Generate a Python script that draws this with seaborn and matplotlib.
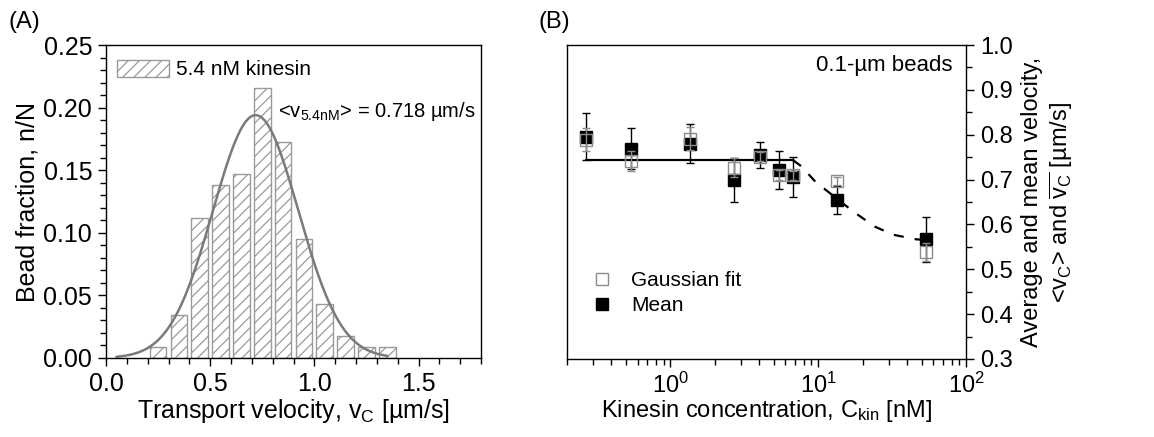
import numpy as np
import pandas as pd
import matplotlib
matplotlib.use("Agg")
import matplotlib.pyplot as plt
import seaborn as sns
from matplotlib.ticker import MultipleLocator, LogLocator, NullFormatter, FormatStrFormatter
from matplotlib.lines import Line2D
from matplotlib.patches import Patch

# ---- Panel A: velocity histogram at 5.4 nM kinesin ----
bin_centers = [0.25, 0.35, 0.45, 0.55, 0.65, 0.75, 0.85, 0.95, 1.05, 1.15, 1.25, 1.35]
bead_fraction = [0.0086, 0.0345, 0.1121, 0.1379, 0.1466, 0.2155,
                 0.1724, 0.0948, 0.0431, 0.0172, 0.0086, 0.0086]
bin_width = 0.1

# Gaussian fit parameters
fit_mean = 0.718
fit_sigma = 0.205
fit_peak = 0.194
fit_range = (0.05, 1.35)

# ---- Panel B: velocity vs kinesin concentration ----
conc_nM = [0.27, 0.54, 1.35, 2.7, 4.05, 5.4, 6.75, 13.5, 54.0]
v_mean = [0.796, 0.769, 0.780, 0.699, 0.754, 0.721, 0.706, 0.655, 0.567]
v_mean_err = [0.052, 0.045, 0.044, 0.048, 0.029, 0.042, 0.044, 0.031, 0.050]
v_gauss = [0.789, 0.742, 0.791, 0.726, 0.751, 0.710, 0.710, 0.697, 0.538]
v_gauss_err = [0.026, 0.022, 0.026, 0.021, 0.010, 0.012, 0.010, 0.009, 0.020]

# model curve: plateau then decay
plateau_conc = [0.27, 6.75]
plateau_v = [0.7435, 0.7435]
decay_conc = [6.75, 7.67, 9.59, 17.4, 24.2, 32.2, 45.6, 54.0]
decay_v = [0.7435, 0.730, 0.695, 0.628, 0.595, 0.577, 0.567, 0.565]

sns.set_theme(style="ticks")
plt.rcParams["font.family"] = ["Liberation Sans", "DejaVu Sans"]
plt.rcParams["mathtext.fontset"] = "custom"
plt.rcParams["mathtext.rm"] = "Liberation Sans"
plt.rcParams["mathtext.it"] = "Liberation Sans"
plt.rcParams["mathtext.bf"] = "Liberation Sans:bold"
plt.rcParams["mathtext.default"] = "regular"
plt.rcParams["hatch.color"] = "#9a9a9a"
plt.rcParams["hatch.linewidth"] = 0.9
plt.rcParams["axes.edgecolor"] = "black"
plt.rcParams["axes.linewidth"] = 1.0
plt.rcParams["xtick.color"] = "black"
plt.rcParams["ytick.color"] = "black"
plt.rcParams["text.color"] = "black"
plt.rcParams["axes.labelcolor"] = "black"

A_FS = 18
B_FS = 17
SMALL_FS = 15

fig = plt.figure(figsize=(11.54, 4.37), dpi=100)
ax_a = fig.add_axes([0.0919, 0.1808, 0.3250, 0.7162])
ax_b = fig.add_axes([0.4913, 0.1785, 0.3458, 0.7185])

# ---------------- Panel A ----------------
hist_df = pd.DataFrame({"velocity": bin_centers, "fraction": bead_fraction})
lo = bin_centers[0] - bin_width / 2
hi = bin_centers[-1] + bin_width / 2
sns.histplot(data=hist_df, x="velocity", weights="fraction",
             binwidth=bin_width, binrange=(lo, hi),
             shrink=0.8, ax=ax_a, facecolor="white", edgecolor="#9a9a9a",
             hatch="///", linewidth=1.0, alpha=1)

xfit = np.linspace(fit_range[0], fit_range[1], 300)
yfit = fit_peak * np.exp(-0.5 * ((xfit - fit_mean) / fit_sigma) ** 2)
sns.lineplot(x=xfit, y=yfit, ax=ax_a, color="#7a7a7a", linewidth=1.8)

ax_a.set_xlim(0, 1.8)
ax_a.set_ylim(0, 0.25)
ax_a.xaxis.set_major_locator(MultipleLocator(0.5))
ax_a.xaxis.set_minor_locator(MultipleLocator(0.1))
ax_a.yaxis.set_major_locator(MultipleLocator(0.05))
ax_a.yaxis.set_minor_locator(MultipleLocator(0.01))
ax_a.xaxis.set_major_formatter(FormatStrFormatter("%.1f"))
ax_a.yaxis.set_major_formatter(FormatStrFormatter("%.2f"))
ax_a.tick_params(which="major", direction="out", length=6, width=1, labelsize=A_FS, pad=4)
ax_a.tick_params(which="minor", direction="out", length=4, width=1)
ax_a.set_xlabel("Transport velocity, v$_C$ [µm/s]", fontsize=A_FS, labelpad=1)
ax_a.set_ylabel("Bead fraction, n/N", fontsize=A_FS, labelpad=3)
for s in ax_a.spines.values():
    s.set_visible(True)

ax_a.legend(
    handles=[Patch(facecolor="white", edgecolor="#9a9a9a", hatch="///", linewidth=1.0)],
    labels=["5.4 nM kinesin"], loc="upper left", frameon=False,
    fontsize=SMALL_FS, handlelength=2.5, handleheight=0.9,
    handletextpad=0.35, borderaxespad=0.3, bbox_to_anchor=(-0.01, 1.0))

ax_a.text(0.825, 0.197, "<v$_{5.4nM}$> = 0.718 µm/s", fontsize=14.5,
          ha="left", va="center")

# ---------------- Panel B ----------------
sns.lineplot(x=plateau_conc, y=plateau_v, ax=ax_b, color="black", linewidth=1.6)
sns.lineplot(x=decay_conc, y=decay_v, ax=ax_b, color="black", linewidth=1.6,
             linestyle=(0, (4.5, 5)))

ax_b.errorbar(conc_nM, v_mean, yerr=v_mean_err, fmt="s", ms=9,
              mfc="black", mec="black", ecolor="black", elinewidth=1.0,
              capsize=3.2, capthick=1.0, zorder=3)
ax_b.errorbar(conc_nM, v_gauss, yerr=v_gauss_err, fmt="s", ms=9,
              mfc="none", mec="#8c8c8c", mew=1.0, ecolor="#8c8c8c",
              elinewidth=1.0, capsize=3.2, capthick=1.0, zorder=4)

ax_b.set_xscale("log")
ax_b.set_xlim(0.2, 100)
ax_b.set_ylim(0.3, 1.0)
ax_b.xaxis.set_major_locator(LogLocator(base=10, numticks=10))
ax_b.xaxis.set_minor_locator(LogLocator(base=10, subs=np.arange(2, 10), numticks=20))
ax_b.xaxis.set_minor_formatter(NullFormatter())
ax_b.yaxis.set_major_locator(MultipleLocator(0.1))
ax_b.yaxis.set_minor_locator(MultipleLocator(0.05))
ax_b.yaxis.set_major_formatter(FormatStrFormatter("%.1f"))
ax_b.yaxis.tick_right()
ax_b.yaxis.set_label_position("right")
ax_b.tick_params(which="major", direction="out", length=6, width=1, labelsize=B_FS, pad=4)
ax_b.tick_params(which="minor", direction="out", length=4, width=1)
ax_b.tick_params(axis="y", which="both", left=False, right=True)
for s in ax_b.spines.values():
    s.set_visible(True)
ax_b.set_xlabel("Kinesin concentration, C$_{kin}$ [nM]", fontsize=B_FS, labelpad=0)
ax_b.set_ylabel("Average and mean velocity,\n<v$_C$> and $\\overline{v_C}$ [µm/s]",
                fontsize=B_FS, labelpad=6)

ax_b.text(0.967, 0.936, "0.1-µm beads", transform=ax_b.transAxes,
          fontsize=16, ha="right", va="center")

legend_handles = [
    Line2D([], [], ls="none", marker="s", ms=9, mfc="none", mec="#8c8c8c"),
    Line2D([], [], ls="none", marker="s", ms=9, mfc="black", mec="black"),
]
ax_b.legend(handles=legend_handles, labels=["Gaussian fit", "Mean"],
            loc="lower left", bbox_to_anchor=(0.015, 0.08), frameon=False,
            fontsize=SMALL_FS, handlelength=1.0, handletextpad=0.9,
            labelspacing=0.3)

fig.text(8 / 1154, 1 - 22 / 437, "(A)", fontsize=17, ha="left", va="center")
fig.text(538 / 1154, 1 - 22 / 437, "(B)", fontsize=17, ha="left", va="center")

fig.savefig("out.png", dpi=100)
